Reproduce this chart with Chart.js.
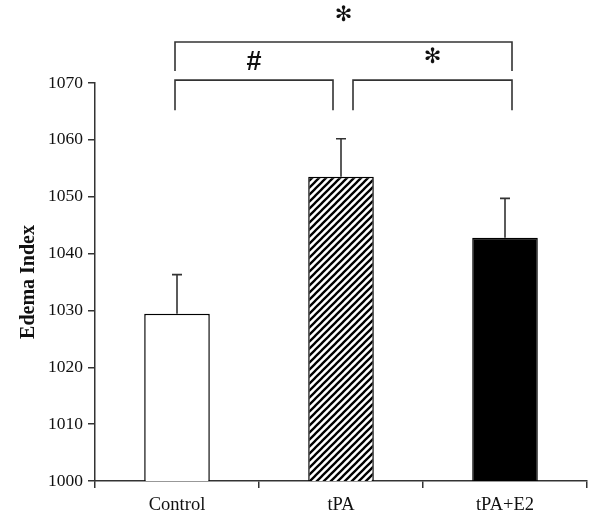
<!DOCTYPE html>
<html><head><meta charset="utf-8">
<script src="https://cdn.jsdelivr.net/npm/chart.js@4"></script>
<style>html,body{margin:0;padding:0;background:#fff}#wrap{width:600px;height:521px}</style>
</head><body><div id="wrap"><canvas id="c" width="600" height="521"></canvas></div>
<script>
// ---- data ----
const categories = ['Control', 'tPA', 'tPA+E2'];
const means = [1029.4, 1053.5, 1042.8];
const errors = [6.9, 6.7, 6.9];
const yMin = 1000, yMax = 1070, yStep = 10;
const axisTitle = 'Edema Index';
// significance brackets: from category index, to category index, label
const bracketFrom = [0, 0, 1];
const bracketTo = [2, 1, 2];
const bracketLabels = ['\u273B', '#', '\u273B'];

// ---- styles ----
const LINE = '#333';
const TEXT = '#111';
const SERIF = '"Liberation Serif", "Times New Roman", serif';

function hatch() {
  const s = 7;
  const c = document.createElement('canvas');
  c.width = s; c.height = s;
  const g = c.getContext('2d');
  g.fillStyle = '#fff'; g.fillRect(0, 0, s, s);
  g.strokeStyle = '#000'; g.lineWidth = 2.3;
  g.beginPath();
  g.moveTo(-1, s + 1); g.lineTo(s + 1, -1);
  g.moveTo(-1, 1); g.lineTo(1, -1);
  g.moveTo(s - 1, s + 1); g.lineTo(s + 1, s - 1);
  g.stroke();
  return document.getElementById('c').getContext('2d').createPattern(c, 'repeat');
}

// bracket geometry (style): y in data units, x offsets in px from category centres
const bracketGeom = [
  {y: 1077.2, leg: 1072.1, dx0: -2, dx1: 7, ty: 1081.8, tdx: 0, font: 'bold 21px "DejaVu Sans"'},
  {y: 1070.5, leg: 1065.2, dx0: -2, dx1: -8, ty: 1073.6, tdx: 0, font: 'bold 27px "Liberation Sans"'},
  {y: 1070.5, leg: 1065.2, dx0: 12, dx1: 7, ty: 1074.4, tdx: 0, font: 'bold 21px "DejaVu Sans"'}
];

const overlay = {
  id: 'overlay',
  afterDatasetsDraw(chart) {
    const ctx = chart.ctx, x = chart.scales.x, y = chart.scales.y;
    const meta = chart.getDatasetMeta(0);
    ctx.save();
    ctx.strokeStyle = LINE; ctx.lineWidth = 1.6;
    // error bars (upper only)
    means.forEach((m, i) => {
      const px = meta.data[i].x;
      const top = y.getPixelForValue(m + errors[i]);
      const base = y.getPixelForValue(m);
      ctx.beginPath();
      ctx.moveTo(px, base); ctx.lineTo(px, top);
      ctx.moveTo(px - 5, top); ctx.lineTo(px + 5, top);
      ctx.stroke();
    });
    // brackets
    bracketFrom.forEach((f, k) => {
      const g = bracketGeom[k];
      const x0 = x.getPixelForValue(f) + g.dx0;
      const x1 = x.getPixelForValue(bracketTo[k]) + g.dx1;
      const yy = y.getPixelForValue(g.y);
      const yl = y.getPixelForValue(g.leg);
      ctx.beginPath();
      ctx.moveTo(x0, yl); ctx.lineTo(x0, yy); ctx.lineTo(x1, yy); ctx.lineTo(x1, yl);
      ctx.stroke();
      ctx.fillStyle = '#111';
      ctx.font = g.font;
      ctx.textAlign = 'center'; ctx.textBaseline = 'middle';
      ctx.fillText(bracketLabels[k], (x0 + x1) / 2 + g.tdx, y.getPixelForValue(g.ty));
    });
    ctx.restore();
  }
};

new Chart(document.getElementById('c'), {
  type: 'bar',
  data: {
    labels: categories,
    datasets: [{
      data: means,
      backgroundColor: ['#fff', hatch(), '#000'],
      borderColor: '#000',
      borderWidth: 1.5,
      categoryPercentage: 1,
      barPercentage: 0.4
    }]
  },
  options: {
    responsive: false,
    animation: false,
    layout: {padding: {top: 83, right: 13, left: 0, bottom: 0}},
    plugins: {legend: {display: false}, tooltip: {enabled: false}},
    scales: {
      x: {
        grid: {offset: true, drawOnChartArea: false, tickLength: 7, color: LINE, lineWidth: 1.5},
        border: {color: LINE, width: 1.5},
        ticks: {font: {family: SERIF, size: 18.5}, color: TEXT, padding: 6},
        afterFit(s) { s.height = 40; }
      },
      y: {
        min: yMin, max: yMax,
        ticks: {stepSize: yStep, font: {family: SERIF, size: 17.5}, color: TEXT, padding: 5,
                callback: v => String(v)},
        grid: {drawOnChartArea: false, tickLength: 7, color: LINE, lineWidth: 1.5},
        border: {color: LINE, width: 1.5},
        title: {display: true, text: axisTitle, color: TEXT,
                font: {family: SERIF, size: 20, weight: 'bold'}, padding: {top: 17, bottom: 0}},
        afterFit(s) { s.width = 95; }
      }
    }
  },
  plugins: [overlay]
});
</script>
</body></html>
